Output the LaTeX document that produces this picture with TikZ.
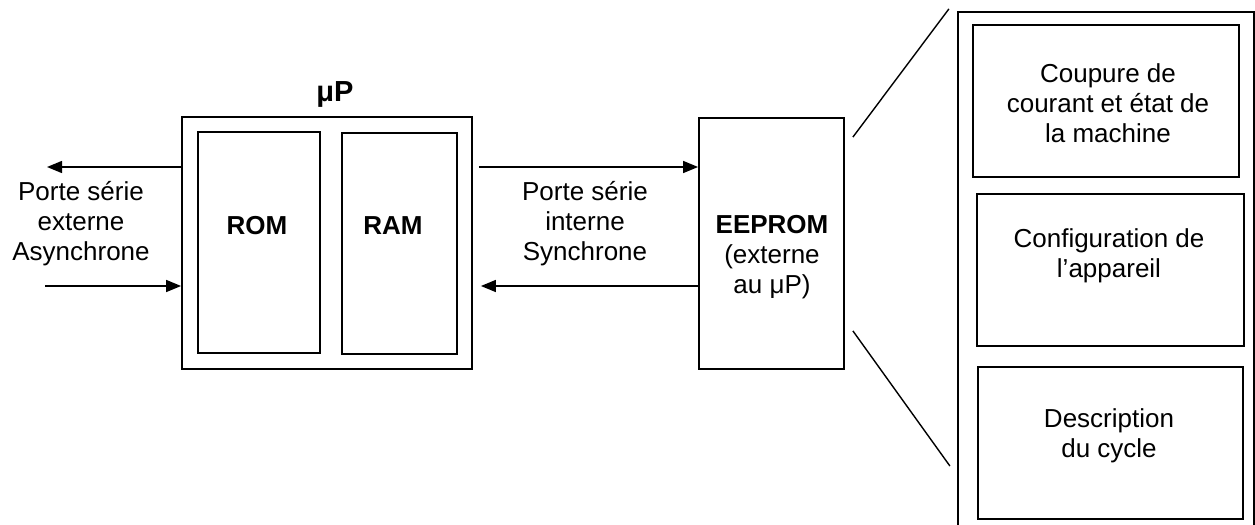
\documentclass[tikz,border=0pt]{standalone}
\usepackage{fontspec}
\setmainfont{Liberation Sans}
\usetikzlibrary{positioning, calc, arrows.meta}
\tikzset{
	block/.style={draw, rectangle, line width=0.9pt, inner sep=0pt},
	mem/.style={draw, rectangle, line width=0.8pt, inner sep=0pt},
	txt/.style={align=center, inner sep=0pt, font=\fontsize{13}{15}\selectfont},
	boldtxt/.style={txt, font=\fontsize{13}{15}\selectfont\bfseries},
	link/.style={line width=0.7pt, -{Triangle[length=7.5pt, width=6pt]}},
}

\begin{document}
\begin{tikzpicture}[x=0.5pt, y=-0.5pt]
	\useasboundingbox (0,0) rectangle (1255,525);
	
	% microprocessor
	\node (mup) [block, minimum width=145pt, minimum height=126pt] at (327,243) {};
	\node (rom) [mem, minimum width=61pt, minimum height=110.5pt] at (259,242.5) {};
	\node (ram) [mem, minimum width=57.5pt, minimum height=110.5pt] at (399.5,243.5) {};
	\node (muplbl) [boldtxt, anchor=base, font=\fontsize{14.5}{15}\selectfont\bfseries] at (335,101) {μP};
	\node (romlbl) [boldtxt, anchor=base] at (257,234) {ROM};
	\node (ramlbl) [boldtxt, anchor=base] at (393,234) {RAM};
	
	% eeprom
	\node (eeprom) [block, minimum width=72.5pt, minimum height=125.5pt] at (771.5,243.5) {};
	\node (eepromlbl) [txt] at (772,257) {\textbf{EEPROM}\\(externe\\au μP)};
	
	% ports
	\node (extlbl) [txt] at (81,224) {Porte série\\externe\\Asynchrone};
	\node (intlbl) [txt] at (585,224) {Porte série\\interne\\Synchrone};
	
	% memory map
	\node (memmap) [block, line width=1.1pt, minimum width=148pt, minimum height=266.5pt] at (1106,278.5) {};
	\node (cut) [mem, minimum width=133pt, minimum height=76pt] at (1106,101) {};
	\node (conf) [mem, minimum width=133.5pt, minimum height=76pt] at (1110.5,270) {};
	\node (desc) [mem, minimum width=132.5pt, minimum height=76pt] at (1110.5,443) {};
	\node (cutlbl) [txt] at (1108,103) {Coupure de\\courant et état de\\la machine};
	\node (conflbl) [txt] at (1109,256) {Configuration de\\l’appareil};
	\node (desclbl) [txt] at (1109,436) {Description\\du cycle};
	
	\coordinate (exttx) at (47,167);
	\coordinate (extrx) at (45,286);
	
	\begin{scope}[link]
		\draw (mup.west |- exttx) -- (exttx);
		\draw (extrx) -- (mup.west |- extrx);
		\draw ($(mup.east |- exttx)+(6,0)$) -- (eeprom.west |- exttx);
		\draw (eeprom.west |- extrx) -- ($(mup.east |- extrx)+(8,0)$);
	\end{scope}
	
	% zoom lines
	\draw [line width=0.7pt] ($(eeprom.north east)+(8,20)$) -- ($(memmap.north west)+(-8,-2)$);
	\draw [line width=0.7pt] ($(eeprom.south east)+(8,-39)$) -- ($(memmap.west)+(-7,187.5)$);
\end{tikzpicture}
\end{document}
